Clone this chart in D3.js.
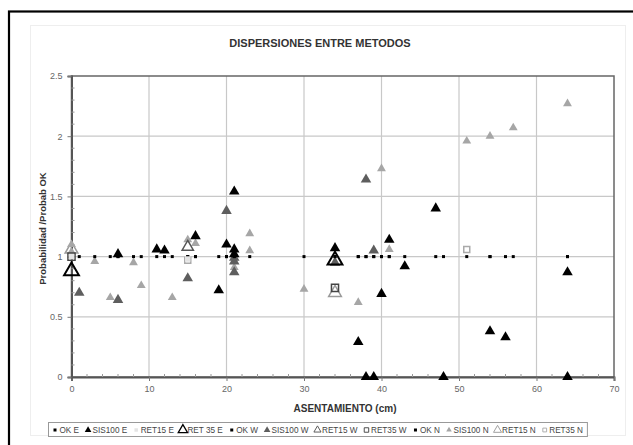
<!DOCTYPE html>
<html>
<head>
<meta charset="utf-8">
<script src="https://cdn.jsdelivr.net/npm/d3@7"></script>
<style>
  body { margin: 0; background: #fff; }
  svg { display: block; font-family: "Liberation Sans", Arial, sans-serif; }
</style>
</head>
<body>
<div id="chart"></div>
<script>
// axis ticks
const xTicks = [0, 10, 20, 30, 40, 50, 60, 70];
const yTicks = [0, 0.5, 1, 1.5, 2, 2.5];

// OK series all sit on ratio 1
const okE = [6, 11, 12, 16, 19, 20, 21, 34, 37, 38, 39, 40, 41, 43, 47, 48, 54, 56, 64];
const okW = [1, 6, 15, 20, 21, 34, 38, 39];
const okN = [0, 3, 5, 8, 9, 13, 15, 16, 21, 23, 30, 37, 40, 41, 51, 54, 57, 64];

// [asentamiento, ratio]
const sis100E = [[6, 1.02], [11, 1.06], [12, 1.05], [16, 1.17], [19, 0.72], [20, 1.10], [21, 1.54],
  [21, 1.06], [21, 1.02], [34, 1.07], [37, 0.29], [38, 0], [39, 0], [40, 0.69], [41, 1.14],
  [43, 0.92], [47, 1.40], [48, 0], [54, 0.38], [56, 0.33], [64, 0.87], [64, 0]];
const ret15E = [[0, 1.0], [15, 0.98]];
const ret35E = [[0, 0.88], [34, 0.97]];
const sis100W = [[1, 0.70], [6, 0.64], [15, 0.82], [20, 1.38], [21, 0.99], [21, 0.96], [21, 0.87],
  [34, 0.95], [38, 1.64], [39, 1.05]];
const ret15W = [[15, 1.08]];
const ret35W = [[34, 0.74], [0, 1.0]];
const sis100N = [[0, 1.10], [0, 1.04], [3, 0.96], [5, 0.66], [8, 0.95], [9, 0.76], [13, 0.66],
  [15, 1.14], [16, 1.11], [21, 0.91], [23, 1.19], [23, 1.05], [30, 0.73], [37, 0.62], [40, 1.73],
  [41, 1.06], [51, 1.96], [54, 2.00], [57, 2.07], [64, 2.27]];
const ret15N = [[0, 1.06], [34, 0.70]];
const ret35N = [[15, 0.97], [51, 1.06]];

const width = 633, height = 445;
const margin = { left: 71.5, right: 19, top: 76, bottom: 68 };

const svg = d3.select("#chart").append("svg")
  .attr("width", width)
  .attr("height", height);

// outer frame + chart area
svg.append("rect").attr("x", 9).attr("y", 11.5).attr("width", 640).attr("height", 450)
  .attr("fill", "#fff").attr("stroke", "#000").attr("stroke-width", 2.2);
svg.append("rect").attr("x", 30.5).attr("y", 25.5).attr("width", 595).attr("height", 410)
  .attr("fill", "#fff").attr("stroke", "#eee").attr("stroke-width", 1);

const x = d3.scaleLinear().domain([0, 70]).range([margin.left, width - margin.right]);
const y = d3.scaleLinear().domain([0, 2.5]).range([377, margin.top]);

const g = svg.append("g");

// gridlines
g.append("g").selectAll("line").data(xTicks.slice(1, -1)).enter().append("line")
  .attr("x1", d => x(d)).attr("x2", d => x(d)).attr("y1", y(0)).attr("y2", y(2.5))
  .attr("stroke", "#c8c8c8").attr("stroke-width", 1.2);
g.append("g").selectAll("line").data(yTicks.slice(1, -1)).enter().append("line")
  .attr("x1", x(0)).attr("x2", x(70)).attr("y1", d => y(d)).attr("y2", d => y(d))
  .attr("stroke", "#c8c8c8").attr("stroke-width", 1.2);

// plot border
g.append("rect").attr("x", x(0)).attr("y", y(2.5)).attr("width", x(70) - x(0)).attr("height", y(0) - y(2.5))
  .attr("fill", "none").attr("stroke", "#666").attr("stroke-width", 1.5);

// axes
const xAxis = g.append("g").attr("transform", `translate(0,${y(0)})`)
  .call(d3.axisBottom(x).tickValues(xTicks).tickSize(4).tickPadding(5));
const yAxis = g.append("g").attr("transform", `translate(${x(0)},0)`)
  .call(d3.axisLeft(y).tickValues(yTicks).tickSize(4).tickPadding(5).tickFormat(d3.format("")));
[xAxis, yAxis].forEach(a => {
  a.select(".domain").attr("stroke", "#555").attr("stroke-width", 2);
  a.selectAll(".tick line").attr("stroke", "#777");
  a.selectAll("text").attr("fill", "#666").attr("font-size", 9);
});

// minor ticks, pointing inward
g.append("g").selectAll("line").data(d3.range(0, 71, 2).filter(v => v % 10)).enter().append("line")
  .attr("x1", d => x(d)).attr("x2", d => x(d)).attr("y1", y(0)).attr("y2", y(0) - 3)
  .attr("stroke", "#999");
g.append("g").selectAll("line").data(d3.range(1, 25).map(v => v / 10).filter((v, i) => (i + 1) % 5)).enter().append("line")
  .attr("x1", x(0)).attr("x2", x(0) + 3).attr("y1", d => y(d)).attr("y2", d => y(d))
  .attr("stroke", "#999");

// titles
svg.append("text").attr("x", 320).attr("y", 47).attr("text-anchor", "middle")
  .attr("font-size", 11).attr("font-weight", "bold").attr("fill", "#333")
  .text("DISPERSIONES ENTRE METODOS");
svg.append("text").attr("x", 345).attr("y", 412).attr("text-anchor", "middle")
  .attr("font-size", 10).attr("font-weight", "bold").attr("fill", "#333")
  .text("ASENTAMIENTO (cm)");
svg.append("text").attr("transform", `translate(46,${(y(0) + y(2.5)) / 2 + 2}) rotate(-90)`)
  .attr("text-anchor", "middle").attr("font-size", 9.5).attr("font-weight", "bold").attr("fill", "#333")
  .text("Probabilidad /Probab OK");

// series styles
const dot = { type: "dot", fill: "#000" };
const series = [
  { name: "OK E", data: okE.map(v => [v, 1]), style: dot },
  { name: "SIS100 E", data: sis100E, style: { type: d3.symbolTriangle, size: 48, fill: "#000" } },
  { name: "RET15 E", data: ret15E, style: { type: d3.symbolSquare, size: 30, fill: "#e4e4e4" } },
  { name: "RET 35 E", data: ret35E, style: { type: d3.symbolTriangle, size: 95, fill: "none", stroke: "#000", sw: 2 } },
  { name: "OK W", data: okW.map(v => [v, 1]), style: dot },
  { name: "SIS100 W", data: sis100W, style: { type: d3.symbolTriangle, size: 48, fill: "#5e5e5e" } },
  { name: "RET15 W", data: ret15W, style: { type: d3.symbolTriangle, size: 55, fill: "none", stroke: "#555", sw: 1.5 } },
  { name: "RET35 W", data: ret35W, style: { type: d3.symbolSquare, size: 50, fill: "none", stroke: "#444", sw: 1.5 } },
  { name: "OK N", data: okN.map(v => [v, 1]), style: dot },
  { name: "SIS100 N", data: sis100N, style: { type: d3.symbolTriangle, size: 34, fill: "#a6a6a6" } },
  { name: "RET15 N", data: ret15N, style: { type: d3.symbolTriangle, size: 70, fill: "none", stroke: "#9a9a9a", sw: 1.5 } },
  { name: "RET35 N", data: ret35N, style: { type: d3.symbolSquare, size: 36, fill: "none", stroke: "#aaa", sw: 1.5 } }
];

function drawMarker(sel, st, scale) {
  if (st.type === "dot") {
    sel.append("rect").attr("x", -1.5).attr("y", -1.5).attr("width", 3).attr("height", 3).attr("fill", st.fill);
  } else {
    sel.append("path").attr("d", d3.symbol().type(st.type).size(st.size * scale)())
      .attr("fill", st.fill).attr("stroke", st.stroke || "none").attr("stroke-width", (st.sw || 0) * Math.sqrt(scale));
  }
}

const pts = svg.append("g");
// draw in reverse so SIS100 E lands on top
series.slice().reverse().forEach(s => {
  s.data.forEach(d => {
    const m = pts.append("g").attr("transform", `translate(${x(d[0])},${y(d[1])})`);
    drawMarker(m, s.style, 1);
  });
});

// legend
const leg = svg.append("g");
const legBox = leg.append("rect").attr("x", 48.5).attr("y", 422.5).attr("height", 14)
  .attr("fill", "#fff").attr("stroke", "#999");
let lx = 52;
series.forEach(s => {
  const item = leg.append("g").attr("transform", `translate(${lx},0)`);
  const m = item.append("g").attr("transform", `translate(3,430)`);
  drawMarker(m, s.style, 0.4);
  const t = item.append("text").attr("x", 7.5).attr("y", 433).attr("font-size", 8.2)
    .attr("fill", "#444").text(s.name);
  lx += 7.5 + t.node().getComputedTextLength() + 6;
});
legBox.attr("width", lx - 50);
</script>
</body>
</html>
